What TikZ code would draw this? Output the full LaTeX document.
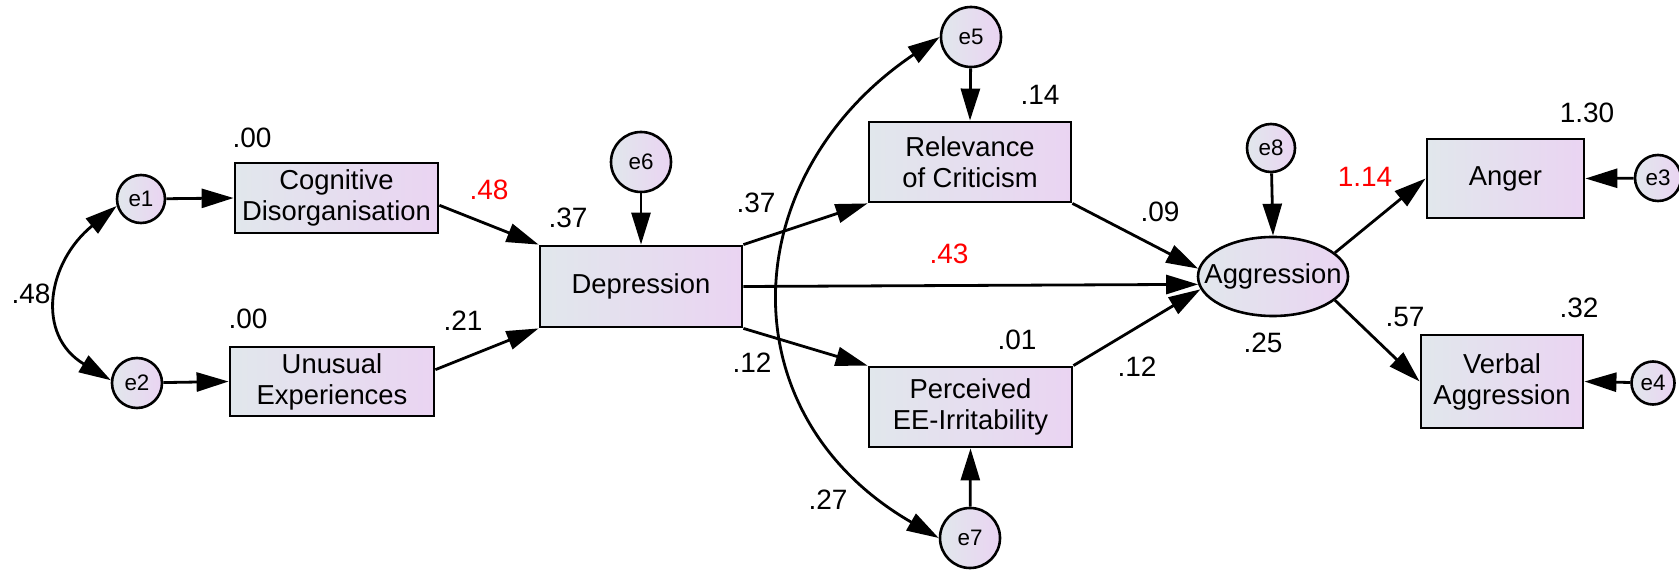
\documentclass[tikz,border=0pt]{standalone}
\usepackage{fontspec}
\setmainfont{Liberation Sans}
\usetikzlibrary{arrows.meta,shapes.geometric,calc}
\definecolor{gl}{HTML}{E1E7EC}
\definecolor{gr}{HTML}{EAD4F2}
\definecolor{nred}{HTML}{FF0000}
\begin{document}
\begin{tikzpicture}[x=0.5pt,y=-0.5pt,
  lbl/.style={font=\fontsize{13.7}{15.5}\selectfont, align=center},
  box/.style={draw, line width=1.4pt, left color=gl, right color=gr, inner sep=0pt, lbl},
  err/.style={draw, circle, line width=1.3pt, left color=gl, right color=gr, inner sep=0pt, font=\fontsize{11.2}{13}\selectfont},
  num/.style={font=\fontsize{14}{16}\selectfont, inner sep=0pt},
  rnum/.style={num, text=nred},
  arr/.style={line width=1.4pt, -{Triangle[length=16pt,width=9.5pt]}},
  dbl/.style={line width=1.4pt, {Triangle[length=16pt,width=9.5pt]}-{Triangle[length=16pt,width=9.5pt]}}]
\useasboundingbox (0,0) rectangle (1679,571);

% boxes
\node[box, minimum width=101.5pt, minimum height=35pt] (cog) at (336.5,198) {Cognitive\\Disorganisation};
\node[box, minimum width=102pt, minimum height=34.5pt] (unu) at (332,381.5) {Unusual\\Experiences};
\node[box, minimum width=101pt, minimum height=40.5pt] (dep) at (641,286.5) {Depression};
\node[box, minimum width=101pt, minimum height=40pt] (rel) at (970,162) {Relevance\\of Criticism};
\node[box, minimum width=101.5pt, minimum height=40pt] (per) at (970.5,407) {Perceived\\EE-Irritability};
\node[box, minimum width=78.5pt, minimum height=39.5pt] (ang) at (1505.5,178.5) {Anger};
\node[box, minimum width=81pt, minimum height=46.5pt] (ver) at (1502,381.5) {Verbal\\Aggression};
\node[draw, ellipse, line width=1.3pt, left color=gl, right color=gr, inner sep=0pt,
      minimum width=75pt, minimum height=39.5pt] (agg) at (1273,276.5) {};
\node[lbl, inner sep=0pt] (aggl) at (agg.center) {Aggression};

% error terms
\node[err, minimum size=24pt] (e1) at (141,199) {e1};
\node[err, minimum size=25pt] (e2) at (137,383) {e2};
\node[err, minimum size=30pt] (e6) at (641,162) {e6};
\node[err, minimum size=30pt] (e5) at (971,37) {e5};
\node[err, minimum size=30pt] (e7) at (970,538) {e7};
\node[err, minimum size=24pt] (e8) at (1271,148) {e8};
\node[err, minimum size=23pt] (e3) at (1658,178) {e3};
\node[err, minimum size=21.5pt] (e4) at (1653,383) {e4};

% connectors
\draw[arr] (e1) -- (cog.west);
\draw[arr] (e2) -- (unu.west);
\draw[dbl] (e1.196) to[out=219, in=149, looseness=1.3] (e2.174);
\draw[arr] ($(cog.east)!0.2!(cog.south east)$) -- (dep.north west);
\draw[arr] ($(unu.east)!0.33!(unu.north east)$) -- (dep.south west);
\draw[arr] (e6) -- (dep.north);
\draw[arr] (dep.north east) -- (rel.south west);
\draw[arr] (dep.south east) -- (per.north west);
\draw[arr] (dep.east) -- (agg.186);
\draw[arr] (e5) -- (rel.north);
\draw[arr] (e7) -- (per.south);
\draw[dbl] (e5.west) to[out=214, in=150, looseness=1.26] (e7.west);
\draw[arr] (rel.south east) -- (agg.174);
\draw[arr] (per.north east) -- (agg.190);
\draw[arr] (e8) -- (agg.north);
\draw[arr] (agg.21) -- (ang.west);
\draw[arr] (agg.-21) -- (ver.west);
\draw[arr] (e3) -- (ang.east);
\draw[arr] (e4) -- (ver.east);

% estimates
\node[num] (n1) at (252,138) {.00};
\node[num] (n2) at (248,319) {.00};
\node[num] (n3) at (31,294) {.48};
\node[rnum] (n4) at (489,190) {.48};
\node[num] (n5) at (463,321) {.21};
\node[num] (n6) at (568,218) {.37};
\node[num] (n7) at (756,203) {.37};
\node[num] (n8) at (752,363) {.12};
\node[num] (n9) at (1040,95) {.14};
\node[rnum] (n10) at (949,254) {.43};
\node[num] (n11) at (1017,340) {.01};
\node[num] (n12) at (828,500) {.27};
\node[num] (n13) at (1160,212) {.09};
\node[num] (n14) at (1137,367) {.12};
\node[num] (n15) at (1263,343) {.25};
\node[rnum] (n16) at (1365,177) {1.14};
\node[num] (n17) at (1405,317) {.57};
\node[num] (n18) at (1587,113) {1.30};
\node[num] (n19) at (1579,308) {.32};
\end{tikzpicture}
\end{document}
